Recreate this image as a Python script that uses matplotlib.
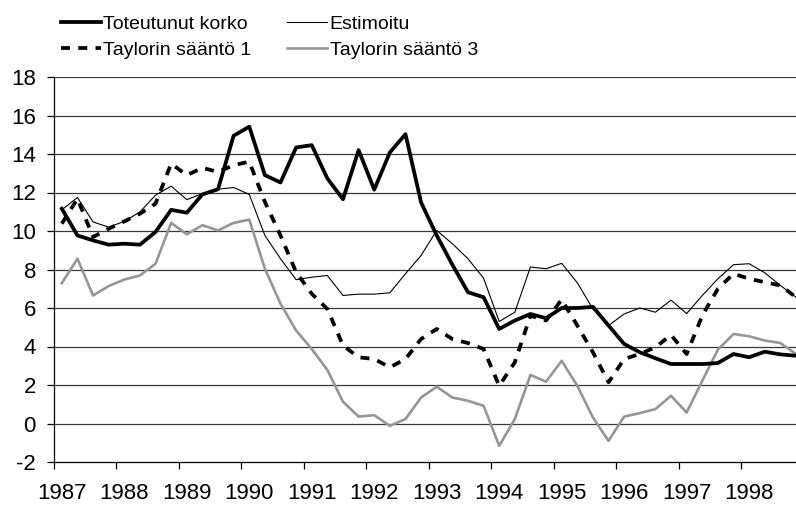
import matplotlib.pyplot as plt
import numpy as np

plt.rcParams['font.family'] = ['Liberation Sans', 'DejaVu Sans']
plt.rcParams['axes.unicode_minus'] = False

# quarterly data 1987Q1 - 1998Q4
years = [str(y) for y in range(1987, 1999)]

toteutunut = [11.16, 9.77, 9.51, 9.29, 9.34, 9.29, 9.95, 11.10, 10.95, 11.90, 12.17, 14.95,
              15.42, 12.90, 12.52, 14.34, 14.46, 12.73, 11.65, 14.20, 12.15, 14.08, 15.03, 11.48,
              9.77, 8.25, 6.82, 6.56, 4.91, 5.35, 5.69, 5.47, 6.00, 6.00, 6.06, 5.09,
              4.13, 3.70, 3.39, 3.09, 3.09, 3.09, 3.14, 3.61, 3.44, 3.73, 3.59, 3.52]

estimoitu = [11.10, 11.74, 10.47, 10.20, 10.50, 10.99, 11.86, 12.33, 11.63, 11.94, 12.17, 12.26,
             11.90, 9.77, 8.56, 7.47, 7.60, 7.69, 6.65, 6.72, 6.72, 6.79, 7.78, 8.73,
             10.03, 9.34, 8.56, 7.55, 5.30, 5.78, 8.13, 8.04, 8.32, 7.31, 5.95, 5.09,
             5.69, 6.00, 5.78, 6.41, 5.71, 6.65, 7.52, 8.25, 8.30, 7.83, 7.17, 6.56]

taylor1 = [10.38, 11.68, 9.69, 10.12, 10.50, 10.90, 11.42, 13.50, 12.90, 13.28, 13.07, 13.42,
           13.60, 11.51, 9.77, 7.86, 6.74, 5.95, 4.05, 3.44, 3.35, 2.92, 3.35, 4.39,
           4.91, 4.39, 4.18, 3.87, 1.96, 3.18, 5.60, 5.35, 6.44, 5.09, 3.70, 2.14,
           3.35, 3.61, 3.96, 4.60, 3.61, 5.60, 7.00, 7.78, 7.52, 7.34, 7.17, 6.56]

taylor3 = [7.29, 8.56, 6.65, 7.14, 7.48, 7.69, 8.30, 10.42, 9.83, 10.30, 10.03, 10.42,
           10.59, 8.04, 6.22, 4.83, 3.87, 2.78, 1.13, 0.36, 0.43, -0.12, 0.23, 1.35,
           1.91, 1.35, 1.18, 0.92, -1.16, 0.23, 2.52, 2.17, 3.26, 1.96, 0.31, -0.90,
           0.36, 0.54, 0.75, 1.44, 0.57, 2.22, 3.84, 4.65, 4.53, 4.31, 4.18, 3.61]

x = np.arange(len(toteutunut))

fig = plt.figure(figsize=(7.96, 5.05), dpi=100)
ax = fig.add_axes([54/796, 1 - 462/505, 742/796, 385/505])

ax.plot(x, taylor3, color='#969696', lw=1.9, label='Taylorin sääntö 3', zorder=3)
ax.plot(x, estimoitu, color='black', lw=0.8, label='Estimoitu', zorder=4)
ax.plot(x, taylor1, color='black', lw=2.7, ls=(0, (2.4, 2.2)), label='Taylorin sääntö 1', zorder=5)
ax.plot(x, toteutunut, color='black', lw=2.7, label='Toteutunut korko', zorder=6)

ax.set_ylim(-2, 18)
ax.set_yticks(np.arange(-2, 19, 2))
ax.set_xlim(-0.5, 47.0)
ax.set_xticks(np.arange(-0.5, 47, 4))
ax.set_xticklabels([])
ax.set_xticks(np.arange(0, 48, 4), minor=True)
ax.set_xticklabels(years, minor=True)

for y in np.arange(0, 19, 2):
    ax.axhline(y, color='#3a3a3a', lw=0.9, zorder=1)

for s in ['top', 'right']:
    ax.spines[s].set_visible(False)
ax.spines['left'].set_linewidth(0.9)
ax.spines['bottom'].set_linewidth(0.9)

ax.tick_params(axis='y', length=5, width=0.9, pad=8, labelsize=16)
ax.tick_params(axis='x', which='major', length=5, width=0.9)
ax.tick_params(axis='x', which='minor', length=0, pad=15, labelsize=16)

h, l = ax.get_legend_handles_labels()
order = [3, 2, 1, 0]
fig.legend([h[i] for i in order], [l[i] for i in order], ncol=2, frameon=False,
           loc='upper left', bbox_to_anchor=(50/796, 1 - 5/505), fontsize=14,
           handlelength=2.05, handletextpad=0.15, columnspacing=1.8, labelspacing=0.42,
           borderaxespad=0.15)

fig.savefig('out.png', dpi=100)
